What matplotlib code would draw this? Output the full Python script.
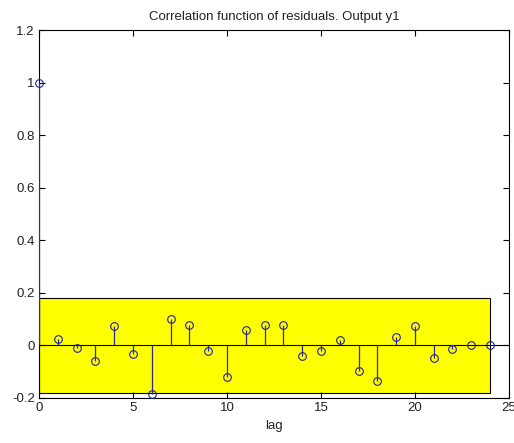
import matplotlib
matplotlib.use("Agg")
from matplotlib import pyplot as plt
from matplotlib.patches import Rectangle

# Residual autocorrelation
lags = list(range(25))
corr = [1.0, 0.024, -0.008, -0.06, 0.074, -0.033, -0.186, 0.102, 0.078, -0.023,
        -0.122, 0.058, 0.078, 0.078, -0.04, -0.023, 0.02, -0.098, -0.135, 0.033,
        0.074, -0.048, -0.013, 0.0, 0.0]
conf_level = 0.182  # confidence band half width
xticks = [0, 5, 10, 15, 20, 25]
yticks = [-0.2, 0, 0.2, 0.4, 0.6, 0.8, 1.0, 1.2]
yticklabels = ["-0.2", "0", "0.2", "0.4", "0.6", "0.8", "1", "1.2"]

plt.rcParams['font.family'] = ['Liberation Sans', 'DejaVu Sans']

fig = plt.figure(figsize=(5.14, 4.43), dpi=100)
ax = fig.add_axes([0.0759, 0.1016, 0.9141, 0.8306])

# confidence region
ax.add_patch(Rectangle((0, -conf_level), lags[-1], 2 * conf_level,
                       facecolor="#ffff00", edgecolor="black", linewidth=0.8, zorder=1))

ax.axhline(0, color="black", linewidth=0.8, zorder=2)
ax.vlines(lags, 0, corr, color="#2a2a9a", linewidth=0.9, zorder=3)
ax.plot(lags, corr, "o", markerfacecolor="none", markeredgecolor="#2020b0",
        markersize=5.5, markeredgewidth=0.8, zorder=4, clip_on=False)

ax.set_xlim(0, 25)
ax.set_ylim(-0.2, 1.2)
ax.set_xticks(xticks)
ax.set_yticks(yticks)
ax.set_yticklabels(yticklabels)
ax.tick_params(direction="in", top=True, right=True, labelsize=9.5, length=4, pad=3,
               labelcolor="#222222")
for s in ax.spines.values():
    s.set_linewidth(0.8)

ax.set_title("Correlation function of residuals. Output y1", fontsize=9.5, pad=7,
             color="#222222")
ax.set_xlabel("lag", fontsize=9.5, labelpad=4, color="#222222")

fig.savefig("out.png", dpi=100)
